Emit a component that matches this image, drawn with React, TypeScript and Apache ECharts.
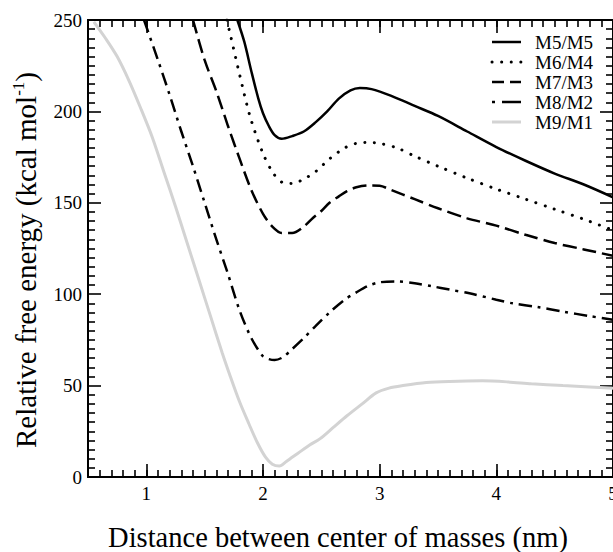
import React, { useEffect, useRef } from 'react';
import * as echarts from 'echarts';

const seriesNames = ['M5/M5', 'M6/M4', 'M7/M3', 'M8/M2', 'M9/M1'];

const m5m5: number[][] = [
  [1.78, 250], [1.84, 238], [1.9, 222], [1.96, 207], [2.0, 199], [2.05, 192], [2.1, 187],
  [2.16, 185], [2.25, 186.5], [2.35, 189], [2.45, 194], [2.55, 200], [2.65, 207], [2.75, 211.5],
  [2.83, 212.8], [2.93, 212.2], [3.1, 208.5], [3.3, 203], [3.5, 197.5], [3.75, 189], [4.0, 180.5],
  [4.25, 173], [4.5, 166], [4.75, 160], [5.0, 153],
];
const m6m4: number[][] = [
  [1.69, 250], [1.72, 242], [1.8, 220], [1.89, 197], [2.0, 177], [2.09, 166], [2.17, 161],
  [2.25, 160.5], [2.35, 163], [2.45, 167], [2.57, 174], [2.7, 180], [2.8, 182.5], [2.9, 183],
  [3.0, 182.5], [3.15, 180], [3.3, 175.5], [3.5, 170], [3.75, 163.5], [4.0, 157.5], [4.25, 152],
  [4.5, 146.5], [4.75, 141], [5.0, 135],
];
const m7m3: number[][] = [
  [1.4, 250], [1.5, 228], [1.6, 211], [1.7, 192], [1.8, 174], [1.9, 157], [2.0, 144], [2.08, 137],
  [2.16, 133.5], [2.25, 133.5], [2.35, 137], [2.43, 141.8], [2.5, 145.5], [2.57, 150], [2.65, 153.5],
  [2.72, 156.4], [2.8, 158.5], [2.9, 159.5], [3.0, 159.3], [3.1, 157], [3.3, 152], [3.5, 147],
  [3.75, 141.5], [4.0, 137.5], [4.25, 132.5], [4.5, 128], [4.75, 124.5], [5.0, 121],
];
const m8m2: number[][] = [
  [0.98, 250], [1.1, 228], [1.2, 209], [1.3, 189], [1.4, 170], [1.5, 150], [1.6, 130], [1.7, 111],
  [1.8, 91], [1.9, 76], [2.0, 66], [2.05, 64.5], [2.1, 64], [2.17, 65.5], [2.25, 70], [2.35, 76],
  [2.45, 82.5], [2.57, 90], [2.7, 97], [2.8, 101], [2.9, 104.5], [3.0, 106.5], [3.15, 107],
  [3.3, 106], [3.45, 104.3], [3.6, 102.5], [3.77, 100.5], [4.0, 97], [4.14, 95], [4.35, 93],
  [4.57, 90.5], [4.8, 88], [5.0, 86],
];
const m9m1: number[][] = [
  [0.55, 249], [0.65, 240], [0.75, 230], [0.85, 217], [0.95, 202], [1.05, 186], [1.15, 167],
  [1.25, 148], [1.35, 128], [1.45, 108], [1.55, 88], [1.65, 68], [1.72, 55], [1.8, 41],
  [1.88, 29], [1.95, 19], [2.02, 11], [2.08, 7], [2.14, 6], [2.2, 8.5], [2.3, 13], [2.4, 17.5],
  [2.49, 21], [2.6, 27], [2.72, 33.5], [2.85, 40], [2.97, 46], [3.08, 48.6], [3.2, 50],
  [3.4, 51.7], [3.6, 52.3], [3.88, 52.6], [4.1, 52], [4.3, 51], [4.57, 50], [4.8, 49.3], [5.0, 48.5],
];

const seriesData = [m5m5, m6m4, m7m3, m8m2, m9m1];
const xRange = [0.5, 5];
const yRange = [0, 250];
const yStep = 50;
const xMinorStep = 0.1;

const FONT = '"Liberation Serif", "Times New Roman", serif';

export default function App() {
  const ref = useRef<HTMLDivElement>(null);
  useEffect(() => {
    if (!ref.current) return;
    const chart = echarts.init(ref.current, undefined, { renderer: 'svg' });
    const axisLine = { show: true, onZero: false, lineStyle: { color: '#000', width: 2 } };
    const styles = [
      { color: '#000', width: 2.5, type: 'solid' as any, legendDash: null as any },
      { color: '#000', width: 3, type: [0.1, 9.5] as any, cap: 'round' as any, legendDash: [0.1, 9.5] },
      { color: '#000', width: 2.5, type: [14, 6] as any, legendDash: [12, 6] },
      { color: '#000', width: 2.5, type: [13, 6, 3, 6] as any, legendDash: [3, 7, 20, 6] },
      { color: '#d3d3d3', width: 3, type: 'solid' as any, legendDash: null as any },
    ];
    const majorX = (pos: 'bottom' | 'top', labels: boolean) => ({
      type: 'value',
      position: pos,
      min: xRange[0],
      max: xRange[1],
      splitNumber: 5,
      axisLine,
      splitLine: { show: false },
      axisTick: { show: true, inside: true, length: 13, lineStyle: { color: '#000', width: 1.6 } },
      axisLabel: {
        show: labels,
        color: '#000',
        fontFamily: FONT,
        fontSize: 19,
        margin: 7,
        formatter: (v: number) => (Math.abs(v - Math.round(v)) < 1e-6 ? String(Math.round(v)) : ''),
      },
    });
    const minorX = (pos: 'bottom' | 'top') => ({
      type: 'value',
      position: pos,
      min: xRange[0],
      max: xRange[1],
      interval: xMinorStep,
      axisLine,
      splitLine: { show: false },
      axisTick: { show: true, inside: true, length: 7, lineStyle: { color: '#000', width: 1.6 } },
      axisLabel: { show: false },
    });
    const yAx = (pos: 'left' | 'right', labels: boolean) => ({
      type: 'value',
      position: pos,
      min: yRange[0],
      max: yRange[1],
      interval: yStep,
      axisLine,
      splitLine: { show: false },
      axisTick: { show: true, inside: true, length: 13, lineStyle: { color: '#000', width: 1.6 } },
      minorTick: { show: true, splitNumber: 10, length: 7, lineStyle: { color: '#000', width: 1.6 } },
      axisLabel: { show: labels, color: '#000', fontFamily: FONT, fontSize: 19, margin: 6 },
    });
    const xMain: any = majorX('bottom', true);
    xMain.name = 'Distance between center of masses (nm)';
    xMain.nameLocation = 'middle';
    xMain.nameGap = 46;
    xMain.nameTextStyle = { color: '#000', fontFamily: FONT, fontSize: 28.5, padding: [0, 25, 0, 0] };
    const yMain: any = yAx('left', true);
    yMain.name = '{a|Relative free energy (kcal mol}{s|-1}{a|)}';
    yMain.nameLocation = 'middle';
    yMain.nameGap = 47;
    yMain.nameTextStyle = {
      color: '#000',
      fontFamily: FONT,
      fontSize: 29,
      padding: [0, 23, 0, 0],
      rich: {
        a: { fontFamily: FONT, fontSize: 29, color: '#000' },
        s: { fontFamily: FONT, fontSize: 17, color: '#000', verticalAlign: 'top', padding: [0, 0, 14, 0] },
      },
    };
    const legendRows = [42, 62, 82, 102, 122];
    const graphics: any[] = [];
    seriesNames.forEach((name, i) => {
      const st = styles[i];
      graphics.push({
        type: 'line',
        shape: { x1: 492, y1: legendRows[i], x2: 521, y2: legendRows[i] },
        style: { stroke: st.color, lineWidth: st.width, lineDash: st.legendDash, lineCap: i === 1 ? 'round' : 'butt' },
        z: 10,
      });
      graphics.push({
        type: 'text',
        x: 535,
        y: legendRows[i],
        style: { text: name, fill: '#000', font: `19px ${FONT}`, verticalAlign: 'middle' },
        z: 10,
      });
    });
    chart.setOption({
      animation: false,
      backgroundColor: '#fff',
      grid: { left: 88, top: 20, right: 0, bottom: 75, containLabel: false, outerBoundsMode: 'none' },
      xAxis: [xMain, minorX('bottom'), majorX('top', false), minorX('top')],
      yAxis: [yMain, yAx('right', false)],
      graphic: graphics,
      series: seriesNames.map((name, i) => ({
        name,
        type: 'line',
        xAxisIndex: 0,
        yAxisIndex: 0,
        data: seriesData[i],
        showSymbol: false,
        symbol: 'none',
        smooth: 0.3,
        lineStyle: { color: styles[i].color, width: styles[i].width, type: styles[i].type, cap: (styles[i] as any).cap },
        itemStyle: { color: styles[i].color },
        z: 5 - i,
      })),
    });
    return () => chart.dispose();
  }, []);
  return <div ref={ref} style={{ position: 'fixed', left: 0, top: 0, width: 613, height: 552, background: '#fff' }} />;
}
